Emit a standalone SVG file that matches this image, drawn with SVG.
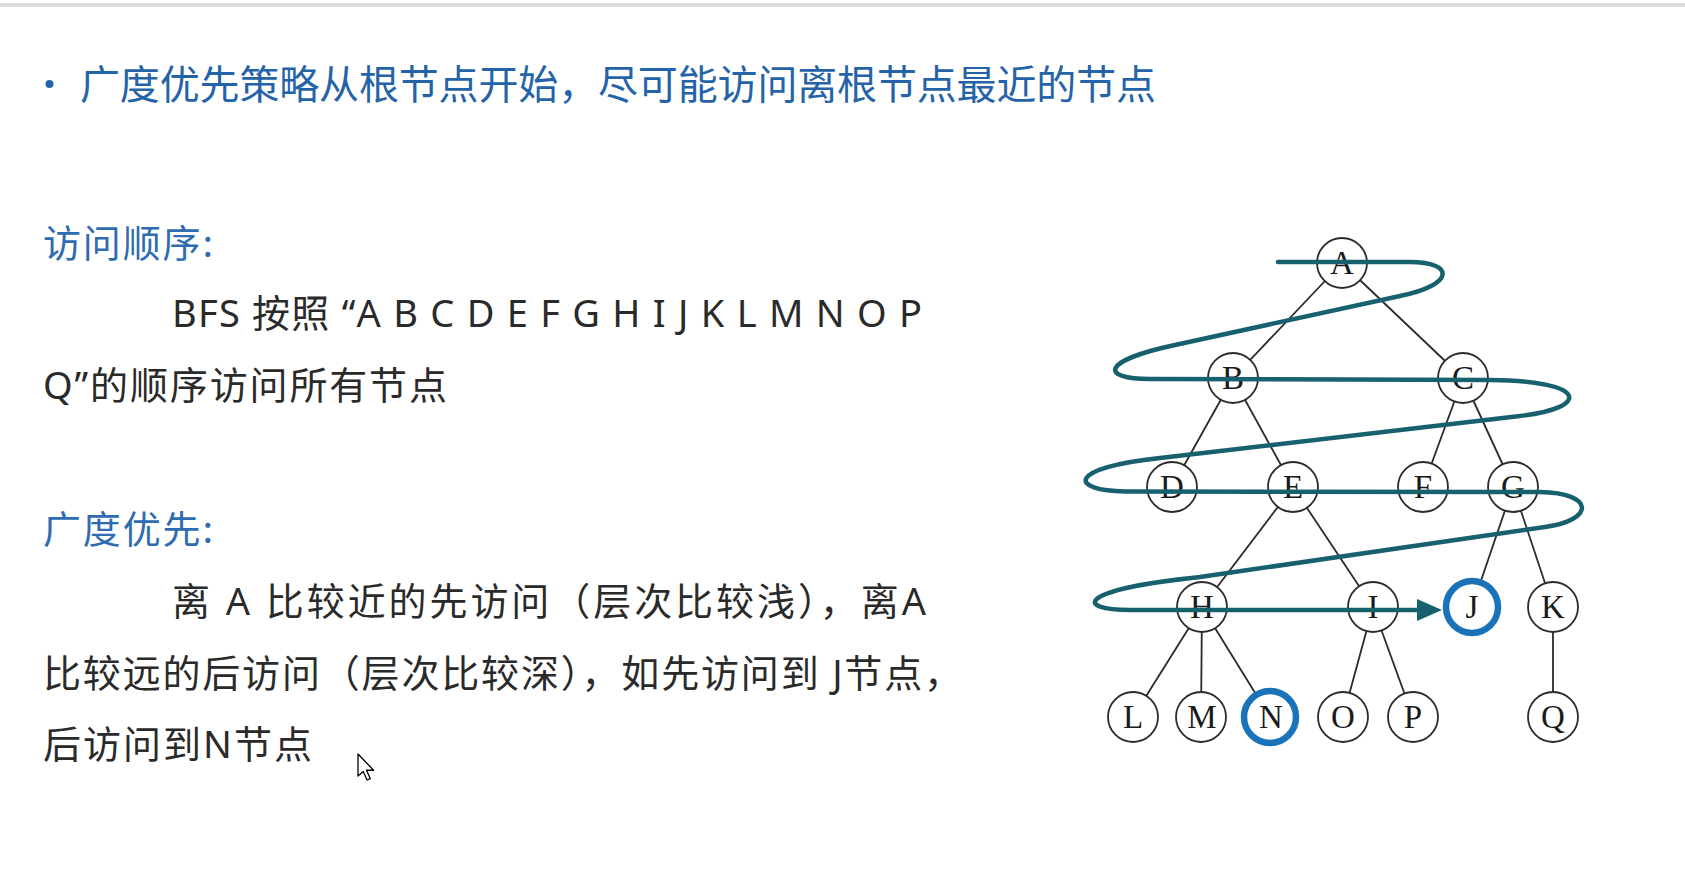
<svg xmlns="http://www.w3.org/2000/svg" width="1685" height="882" viewBox="0 0 1685 882">
<style>
  .title{font-family:"Noto Sans CJK SC","Noto Sans",sans-serif;font-size:40px;fill:#2563a8;}
  .head{font-family:"Noto Sans CJK SC","Noto Sans",sans-serif;font-size:38px;fill:#2e6bb0;}
  .body{font-family:"Noto Sans","Noto Sans CJK SC",sans-serif;font-size:38px;fill:#2a2a2a;}
  .edge{stroke:#2b2b2b;stroke-width:1.8;fill:none;}
  .node circle{fill:#ffffff;stroke:#2b2b2b;stroke-width:1.8;}
  .node.hl circle{stroke:#1a72b8;stroke-width:6.5;}
  .node text{font-family:"Liberation Serif",serif;font-size:33px;fill:#1a1a1a;text-anchor:middle;}
  .spiral{fill:none;stroke:#17616f;stroke-width:4.5;stroke-linejoin:round;stroke-linecap:round;}
</style>
<defs>
  <marker id="arrow" viewBox="0 0 25 22" refX="3" refY="11" markerWidth="25" markerHeight="22" markerUnits="userSpaceOnUse" orient="auto">
    <path d="M0,0 L25,11 L0,22 Z" fill="#17616f"/>
  </marker>
</defs>
<rect width="1685" height="882" fill="#ffffff"/>
<rect x="0" y="3" width="1685" height="4" fill="#dcdcdc"/>

<g id="title">
  <circle cx="49.5" cy="84" r="4" fill="#2563a8"/>
  <text class="title" x="80" y="99" textLength="1076" lengthAdjust="spacing">广度优先策略从根节点开始，尽可能访问离根节点最近的节点</text>
</g>

<g id="text-left">
  <text class="head" x="43" y="257" textLength="170" lengthAdjust="spacing">访问顺序:</text>
  <text class="body" x="172" y="327" textLength="750" lengthAdjust="spacing">BFS 按照 “A B C D E F G H I J K L M N O P</text>
  <text class="body" x="43" y="399" textLength="404" lengthAdjust="spacing">Q”的顺序访问所有节点</text>
  <text class="head" x="43" y="543" textLength="170" lengthAdjust="spacing">广度优先:</text>
  <text class="body" x="172" y="615" textLength="754" lengthAdjust="spacing">离 A 比较近的先访问（层次比较浅），离A</text>
  <text class="body" x="43" y="687" textLength="919" lengthAdjust="spacing">比较远的后访问（层次比较深），如先访问到 J节点，</text>
  <text class="body" x="43" y="758" textLength="269" lengthAdjust="spacing">后访问到N节点</text>
</g>

<g id="cursor" transform="translate(358,754) scale(1.3)">
  <path d="M0,0 L0,17 L4,13.5 L7,20 L9.5,19 L6.5,12.5 L12,12.5 Z" fill="#ffffff" stroke="#000000" stroke-width="1" stroke-linejoin="round"/>
</g>

<g id="edges">
  <line class="edge" x1="1342" y1="263" x2="1233" y2="378"/>
  <line class="edge" x1="1342" y1="263" x2="1463" y2="378"/>
  <line class="edge" x1="1233" y1="378" x2="1172" y2="487"/>
  <line class="edge" x1="1233" y1="378" x2="1293" y2="487"/>
  <line class="edge" x1="1463" y1="378" x2="1423" y2="487"/>
  <line class="edge" x1="1463" y1="378" x2="1513" y2="487"/>
  <line class="edge" x1="1293" y1="487" x2="1202" y2="607"/>
  <line class="edge" x1="1293" y1="487" x2="1373" y2="607"/>
  <line class="edge" x1="1513" y1="487" x2="1472" y2="607"/>
  <line class="edge" x1="1513" y1="487" x2="1553" y2="607"/>
  <line class="edge" x1="1202" y1="607" x2="1133" y2="717"/>
  <line class="edge" x1="1202" y1="607" x2="1201" y2="717"/>
  <line class="edge" x1="1202" y1="607" x2="1270" y2="717"/>
  <line class="edge" x1="1373" y1="607" x2="1343" y2="717"/>
  <line class="edge" x1="1373" y1="607" x2="1413" y2="717"/>
  <line class="edge" x1="1553" y1="607" x2="1553" y2="717"/>
</g>

<g id="node-A" class="node"><circle cx="1342" cy="263" r="25"/><text x="1342" y="274">A</text></g>
<g id="node-B" class="node"><circle cx="1233" cy="378" r="25"/><text x="1233" y="389">B</text></g>
<g id="node-C" class="node"><circle cx="1463" cy="378" r="25"/><text x="1463" y="389">C</text></g>
<g id="node-D" class="node"><circle cx="1172" cy="487" r="25"/><text x="1172" y="498">D</text></g>
<g id="node-E" class="node"><circle cx="1293" cy="487" r="25"/><text x="1293" y="498">E</text></g>
<g id="node-F" class="node"><circle cx="1423" cy="487" r="25"/><text x="1423" y="498">F</text></g>
<g id="node-G" class="node"><circle cx="1513" cy="487" r="25"/><text x="1513" y="498">G</text></g>
<g id="node-H" class="node"><circle cx="1202" cy="607" r="25"/><text x="1202" y="618">H</text></g>
<g id="node-I" class="node"><circle cx="1373" cy="607" r="25"/><text x="1373" y="618">I</text></g>
<g id="node-J" class="node hl"><circle cx="1472" cy="607" r="26"/><text x="1472" y="618">J</text></g>
<g id="node-K" class="node"><circle cx="1553" cy="607" r="25"/><text x="1553" y="618">K</text></g>
<g id="node-L" class="node"><circle cx="1133" cy="717" r="25"/><text x="1133" y="728">L</text></g>
<g id="node-M" class="node"><circle cx="1201" cy="717" r="25"/><text x="1202" y="728">M</text></g>
<g id="node-N" class="node hl"><circle cx="1270" cy="717" r="26"/><text x="1271" y="728">N</text></g>
<g id="node-O" class="node"><circle cx="1343" cy="717" r="25"/><text x="1343" y="728">O</text></g>
<g id="node-P" class="node"><circle cx="1413" cy="717" r="25"/><text x="1413" y="728">P</text></g>
<g id="node-Q" class="node"><circle cx="1553" cy="717" r="25"/><text x="1553" y="728">Q</text></g>

<g id="connectors">
  <path class="spiral" marker-end="url(#arrow)" d="M1278,262 L1410,262 C1455,262 1455,285 1400,296 L1175,345 C1100,361 1100,379 1150,379 L1490,380 C1590,381 1590,408 1520,416 L1160,458 C1065,468 1070,491 1125,491.5 L1540,492 C1595,493 1595,520 1545,527 L1200,577 C1075,590 1075,610 1130,610 L1420,610"/>
</g>
</svg>
